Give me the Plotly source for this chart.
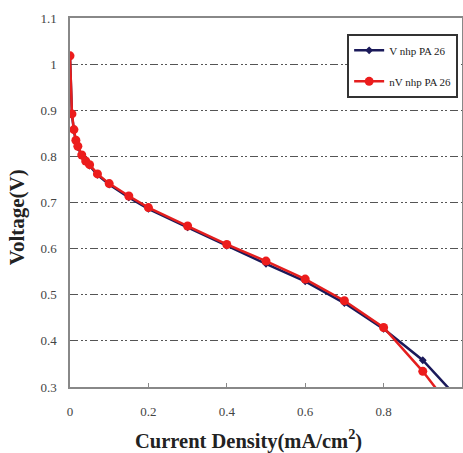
import plotly.graph_objects as go

# Data
current_red = [0.0, 0.005, 0.01, 0.015, 0.02, 0.03, 0.04, 0.05, 0.07, 0.1, 0.15, 0.2, 0.3, 0.4, 0.5, 0.6, 0.7, 0.8, 0.9, 0.95]
voltage_red = [1.018, 0.892, 0.858, 0.835, 0.822, 0.803, 0.79, 0.782, 0.762, 0.741, 0.714, 0.689, 0.649, 0.609, 0.573, 0.534, 0.487, 0.429, 0.334, 0.279]
current_blue = [0.0, 0.005, 0.01, 0.015, 0.02, 0.03, 0.04, 0.05, 0.07, 0.1, 0.15, 0.2, 0.3, 0.4, 0.5, 0.6, 0.7, 0.8, 0.9, 1.0]
voltage_blue = [1.016, 0.890, 0.856, 0.833, 0.820, 0.801, 0.788, 0.780, 0.760, 0.739, 0.711, 0.686, 0.646, 0.606, 0.567, 0.529, 0.482, 0.426, 0.358, 0.266]
x_ticks = [0, 0.2, 0.4, 0.6, 0.8, 1]
y_ticks = [0.3, 0.4, 0.5, 0.6, 0.7, 0.8, 0.9, 1.0, 1.1]
name_blue = "V nhp PA 26"
name_red = "nV nhp PA 26"

fig = go.Figure()
fig.add_trace(go.Scatter(
    x=current_blue, y=voltage_blue, name=name_blue, mode="lines+markers",
    line=dict(color="#1b1a5a", width=2.5),
    marker=dict(symbol="diamond", size=6, color="#1b1a5a"),
    legendgroup="a", cliponaxis=True))
fig.add_trace(go.Scatter(
    x=current_red, y=voltage_red, name=name_red, mode="lines+markers",
    line=dict(color="#e41e1e", width=2.5),
    marker=dict(symbol="circle", size=9, color="#ec1c1c"),
    legendgroup="b", cliponaxis=True))

serif = "Times New Roman, Liberation Serif, serif"
grid_dash = "8px,3px,2px,2px,2px,3px"

fig.update_layout(
    width=463, height=453,
    margin=dict(l=70, r=1, t=18, b=66),
    paper_bgcolor="white", plot_bgcolor="white",
    showlegend=True,
    legend=dict(
        x=0.707, y=0.957, xanchor="left", yanchor="top",
        bgcolor="white", bordercolor="#333333", borderwidth=2,
        font=dict(family=serif, size=11, color="#222222"),
        traceorder="grouped", tracegroupgap=12,
        itemwidth=30),
    font=dict(family=serif),
)
fig.update_xaxes(
    range=[0, 1], tickvals=x_ticks, ticktext=[f"{v:g}" for v in x_ticks],
    showgrid=False, zeroline=False,
    showline=True, linecolor="#888888", linewidth=1.5, mirror=True,
    ticks="inside", ticklen=4, tickcolor="#888888",
    tickfont=dict(family=serif, size=13, color="#444444"),
    ticklabelstandoff=12, automargin=False)
fig.update_yaxes(
    range=[0.3, 1.1], tickvals=y_ticks, ticktext=[f"{v:g}" for v in y_ticks],
    showgrid=True, gridcolor="#555555", gridwidth=1, griddash=grid_dash,
    zeroline=False,
    showline=True, linecolor="#888888", linewidth=1.5, mirror=True,
    ticks="",
    tickfont=dict(family=serif, size=13, color="#444444"),
    ticklabelstandoff=9, automargin=False)

fig.add_annotation(
    text="<b>Current Density(mA/cm<sup>2</sup>)</b>", xref="paper", yref="paper",
    x=0.455, y=-0.143, xanchor="center", yanchor="middle", showarrow=False,
    font=dict(family=serif, size=20.5, color="#222222"))
fig.add_annotation(
    text="<b>Voltage(V)</b>", xref="paper", yref="paper", textangle=-90,
    x=-0.135, y=0.46, xanchor="center", yanchor="middle", showarrow=False,
    font=dict(family=serif, size=21, color="#222222"))

fig.write_html("out.html")
